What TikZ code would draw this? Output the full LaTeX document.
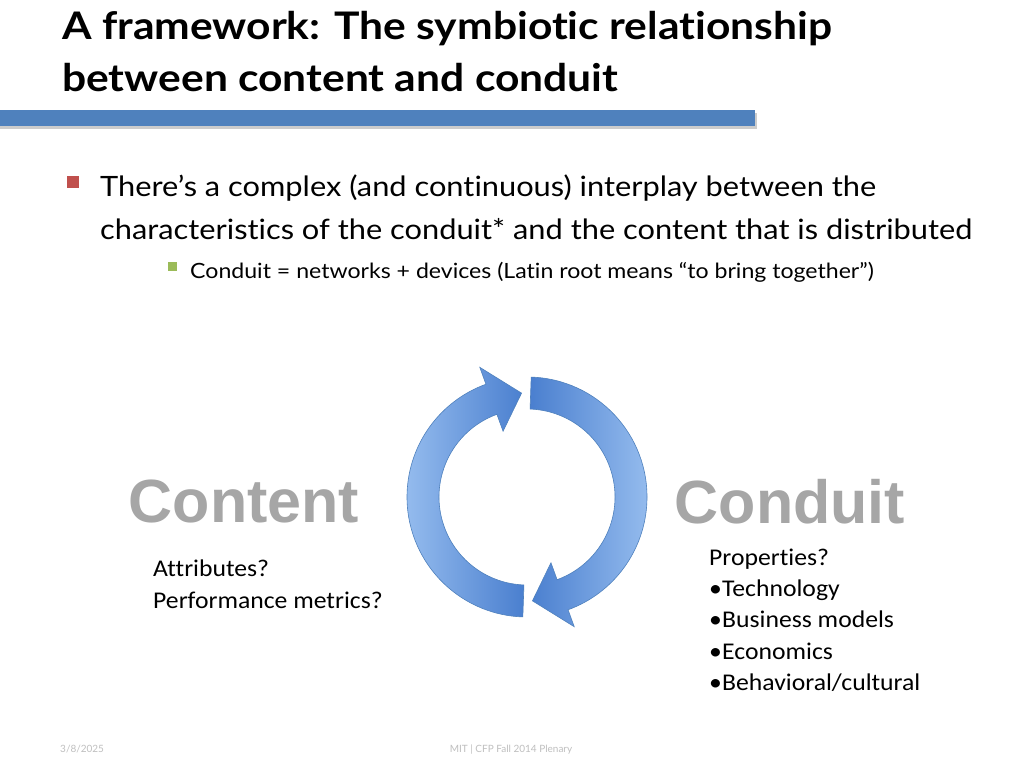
\documentclass[tikz,border=0pt]{standalone}
\usepackage{fontspec}
\setmainfont{Lato}[Ligatures=NoCommon]
\newfontfamily\widefont{Lato}[Ligatures=NoCommon,FakeStretch=1.1]
\newfontfamily\titlefont{Lato}[Ligatures=NoCommon,FakeStretch=1.12]
\newfontfamily\arialfont{Liberation Sans}
\newfontfamily\califont{Carlito}[Ligatures=NoCommon,FakeStretch=1.07]
\usetikzlibrary{calc}
\definecolor{barblue}{HTML}{4F81BD}
\definecolor{arrowdark}{HTML}{4A7FCF}
\definecolor{arrowlight}{HTML}{95BCEE}
\definecolor{bigtext}{HTML}{A6A6A6}
\definecolor{bulletred}{HTML}{C0504D}
\definecolor{bulletgreen}{HTML}{9BBB59}
\begin{document}
\begin{tikzpicture}[x=1pt,y=1pt,
    txt/.style={anchor=base west,inner sep=0pt},
    big/.style={font=\arialfont\bfseries\fontsize{61}{61}\selectfont,text=bigtext},
    note/.style={txt,font=\califont\fontsize{24}{28}\selectfont},
    cyc/.style={draw=barblue,line width=0.6pt}]
  \useasboundingbox (0,0) rectangle (1024,768);
  \fill[white] (0,0) rectangle (1024,768);
  % title
  \node[txt,font=\titlefont\bfseries\fontsize{38}{42}\selectfont] (title1) at (62,728) {A framework: The symbiotic relationship};
  \node[txt,font=\titlefont\bfseries\fontsize{38}{42}\selectfont] (title2) at (62,676) {between content and conduit};
  \fill[black!20] (0,639) rectangle (757,655);
  \fill[barblue] (0,642) rectangle (755,658);
  % bullets
  \fill[bulletred] (67,580) rectangle (79,592);
  \node[txt,font=\widefont\fontsize{28}{32}\selectfont] (b1) at (100,571) {There’s a complex (and continuous) interplay between the};
  \node[txt,font=\widefont\fontsize{28}{32}\selectfont] (b2) at (100,528) {characteristics of the conduit* and the content that is distributed};
  \fill[bulletgreen] (168,497) rectangle (177,506);
  \node[txt,font=\widefont\fontsize{21}{24}\selectfont] (b3) at (190,489) {Conduit = networks + devices (Latin root means “to bring together”)};
  % cycle arrows
  \coordinate (C) at (527,271);
  \shade[cyc,left color=arrowlight,right color=arrowdark]
    ($(C)+(268:120)$) arc[start angle=268,end angle=110,radius=120]
    -- ($(C)+(110:138)$) -- ($(C)+(93:104)$) -- ($(C)+(110:70)$)
    -- ($(C)+(110:88)$) arc[start angle=110,end angle=268,radius=88] -- cycle;
  \shade[cyc,left color=arrowdark,right color=arrowlight]
    ($(C)+(88:120)$) arc[start angle=88,end angle=-70,radius=120]
    -- ($(C)+(-70:138)$) -- ($(C)+(-87:104)$) -- ($(C)+(-70:70)$)
    -- ($(C)+(-70:88)$) arc[start angle=-70,end angle=88,radius=88] -- cycle;
  % labels
  \node[big] (content) at (244,266) {Content};
  \node[big] (conduit) at (790,266) {Conduit};
  \node[note] (attr) at (153,191) {Attributes?};
  \node[note] (perf) at (153,160) {Performance metrics?};
  \node[note] (prop) at (709,202) {Properties?};
  \foreach \t [count=\i] in {Technology,Business models,Economics,Behavioral/cultural}{
    \node[note] (dot\i) at (709,202-31*\i) {•};
    \node[note] (item\i) at (722,202-31*\i) {\t};
  }
  % footer
  \node[txt,font=\fontsize{10}{12}\selectfont,text=black!25] (date) at (60,16) {3/8/2025};
  \node[anchor=base,inner sep=0pt,font=\fontsize{10}{12}\selectfont,text=black!25] (foot) at (511,16) {MIT | CFP Fall 2014 Plenary};
\end{tikzpicture}
\end{document}
